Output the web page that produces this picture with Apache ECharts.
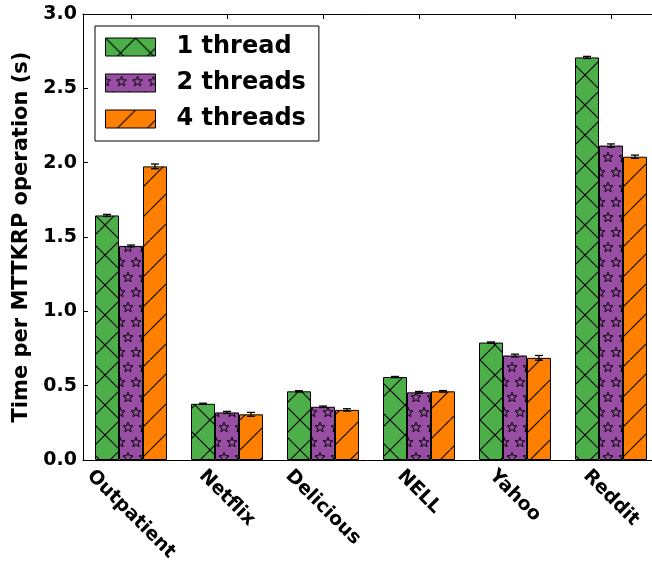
<!DOCTYPE html>
<html>
<head>
<meta charset="utf-8">
<script src="https://cdn.jsdelivr.net/npm/echarts@6/dist/echarts.min.js"></script>
<style>html,body{margin:0;padding:0;background:#fff;}#c{width:652px;height:568px;}</style>
</head>
<body>
<div id="c"></div>
<script>
const categories = ['Outpatient', 'Netflix', 'Delicious', 'NELL', 'Yahoo', 'Reddit'];
const seriesNames = ['1 thread', '2 threads', '4 threads'];
const oneThread = [1.645, 0.378, 0.462, 0.558, 0.790, 2.708];
const twoThreads = [1.440, 0.320, 0.358, 0.455, 0.703, 2.115];
const fourThreads = [1.975, 0.307, 0.337, 0.462, 0.687, 2.040];
const errOne = [0.007, 0.004, 0.004, 0.004, 0.004, 0.007];
const errTwo = [0.006, 0.007, 0.005, 0.006, 0.009, 0.011];
const errFour = [0.016, 0.013, 0.008, 0.005, 0.016, 0.011];
const yTicks = [0, 0.5, 1.0, 1.5, 2.0, 2.5, 3.0];

const FONT = '"DejaVu Sans", "Noto Sans", sans-serif';

function makeTile(w, h, bg, draw) {
  const c = document.createElement('canvas');
  c.width = w; c.height = h;
  const ctx = c.getContext('2d');
  ctx.fillStyle = bg; ctx.fillRect(0, 0, w, h);
  ctx.strokeStyle = '#000'; ctx.lineWidth = 1.1;
  draw(ctx, w, h);
  return c;
}
function starPath(ctx, cx, cy, R, r) {
  ctx.beginPath();
  for (let i = 0; i < 10; i++) {
    const rad = i % 2 === 0 ? R : r;
    const a = -Math.PI / 2 + i * Math.PI / 5;
    const x = cx + rad * Math.cos(a), y = cy + rad * Math.sin(a);
    if (i === 0) ctx.moveTo(x, y); else ctx.lineTo(x, y);
  }
  ctx.closePath();
  ctx.stroke();
}
const greenTile = makeTile(30, 30, '#4daf4a', (ctx, w, h) => {
  ctx.beginPath();
  ctx.moveTo(-2, -2); ctx.lineTo(w + 2, h + 2);
  ctx.moveTo(-2, h + 2); ctx.lineTo(w + 2, -2);
  ctx.stroke();
});
const purpleTile = makeTile(16, 30, '#984ea3', (ctx, w, h) => {
  ctx.lineWidth = 1;
  [[0, 7.5], [w, 7.5], [w / 2, 22.5], [0, 7.5 + h], [w, 7.5 + h], [w / 2, 22.5 - h]].forEach(p => starPath(ctx, p[0], p[1], 5.2, 2.2));
});
const orangeTile = makeTile(30, 30, '#ff7f00', (ctx, w, h) => {
  ctx.beginPath();
  ctx.moveTo(-2, h + 2); ctx.lineTo(w + 2, -2);
  ctx.stroke();
});

const patterns = [
  { image: greenTile, repeat: 'repeat' },
  { image: purpleTile, repeat: 'repeat' },
  { image: orangeTile, repeat: 'repeat' }
];
const values = [oneThread, twoThreads, fourThreads];
const errors = [errOne, errTwo, errFour];
const offsets = [-0.25, 0, 0.25];

// measure label widths to center rotated labels on ticks (matplotlib style)
const XFS = 19;
const mctx = document.createElement('canvas').getContext('2d');
mctx.font = 'bold ' + XFS + 'px ' + FONT;
const rich = {};
categories.forEach((c, i) => {
  const L = mctx.measureText(c).width;
  rich['s' + i] = {
    fontFamily: FONT, fontWeight: 'bold', fontSize: XFS, color: '#000',
    padding: [0.5 * L, 0, 0, 0.5 * L]
  };
});

const series = [];
seriesNames.forEach((name, k) => {
  series.push({
    name: name,
    type: 'bar',
    data: values[k],
    barGap: '0%',
    barCategoryGap: '25%',
    itemStyle: { color: patterns[k], borderColor: '#000', borderWidth: 1 },
    z: 2
  });
});
seriesNames.forEach((name, k) => {
  series.push({
    type: 'custom',
    name: name + ' err',
    z: 5,
    silent: true,
    data: values[k].map((v, i) => [i, v, errors[k][i]]),
    encode: { x: 0, y: 1 },
    renderItem: function (params, api) {
      const idx = api.value(0), v = api.value(1), e = api.value(2);
      const cw = api.size([1, 0])[0];
      const x = api.coord([idx, v])[0] + offsets[k] * cw;
      const yt = api.coord([idx, v + e])[1];
      const yb = api.coord([idx, v - e])[1];
      const hw = 4;
      const st = { stroke: '#000', lineWidth: 1.3 };
      return {
        type: 'group',
        children: [
          { type: 'line', shape: { x1: x, y1: yt, x2: x, y2: yb }, style: st },
          { type: 'line', shape: { x1: x - hw, y1: yt, x2: x + hw, y2: yt }, style: st },
          { type: 'line', shape: { x1: x - hw, y1: yb, x2: x + hw, y2: yb }, style: st }
        ]
      };
    }
  });
});

const chart = echarts.init(document.getElementById('c'), null, { renderer: 'canvas' });
chart.setOption({
  animation: false,
  backgroundColor: '#fff',
  textStyle: { fontFamily: FONT },
  grid: { left: 83, top: 14, right: -7, bottom: 108, containLabel: false, outerBoundsMode: 'none' },
  legend: {
    data: seriesNames,
    orient: 'vertical',
    left: 95, top: 26,
    padding: [9, 13, 10, 10],
    itemWidth: 50, itemHeight: 18, itemGap: 12,
    borderColor: '#000', borderWidth: 1,
    selectedMode: false,
    icon: 'rect',
    textStyle: { fontFamily: FONT, fontWeight: 'bold', fontSize: 24, color: '#000', padding: [0, 0, 0, 16] },
    itemStyle: { borderColor: '#000', borderWidth: 1 }
  },
  xAxis: [{
    type: 'category',
    data: categories,
    position: 'bottom',
    axisLine: { show: true, lineStyle: { color: '#000', width: 1 } },
    axisTick: { show: true, inside: true, alignWithLabel: true, length: 5, lineStyle: { color: '#000' } },
    axisLabel: {
      interval: 0, rotate: -45, margin: 13,
      align: 'center', verticalAlign: 'middle',
      formatter: (v, i) => '{s' + i + '|' + v + '}',
      rich: rich
    },
    splitLine: { show: false }
  }, {
    type: 'category',
    data: categories,
    position: 'top',
    axisLine: { show: true, onZero: false, lineStyle: { color: '#000', width: 1 } },
    axisTick: { show: true, inside: true, alignWithLabel: true, length: 5, lineStyle: { color: '#000' } },
    axisLabel: { show: false },
    splitLine: { show: false }
  }],
  yAxis: {
    type: 'value',
    min: 0, max: 3, interval: 0.5,
    name: 'Time per MTTKRP operation (s)',
    nameLocation: 'middle',
    nameGap: 49,
    nameTextStyle: { fontFamily: FONT, fontWeight: 'bold', fontSize: 21, color: '#000' },
    axisLine: { show: true, lineStyle: { color: '#000', width: 1 } },
    axisTick: { show: true, inside: true, length: 5, lineStyle: { color: '#000' } },
    axisLabel: {
      margin: 6, fontFamily: FONT, fontWeight: 'bold', fontSize: 19, color: '#000',
      customValues: yTicks,
      formatter: v => v.toFixed(1)
    },
    splitLine: { show: false }
  },
  series: series
});
</script>
</body>
</html>
